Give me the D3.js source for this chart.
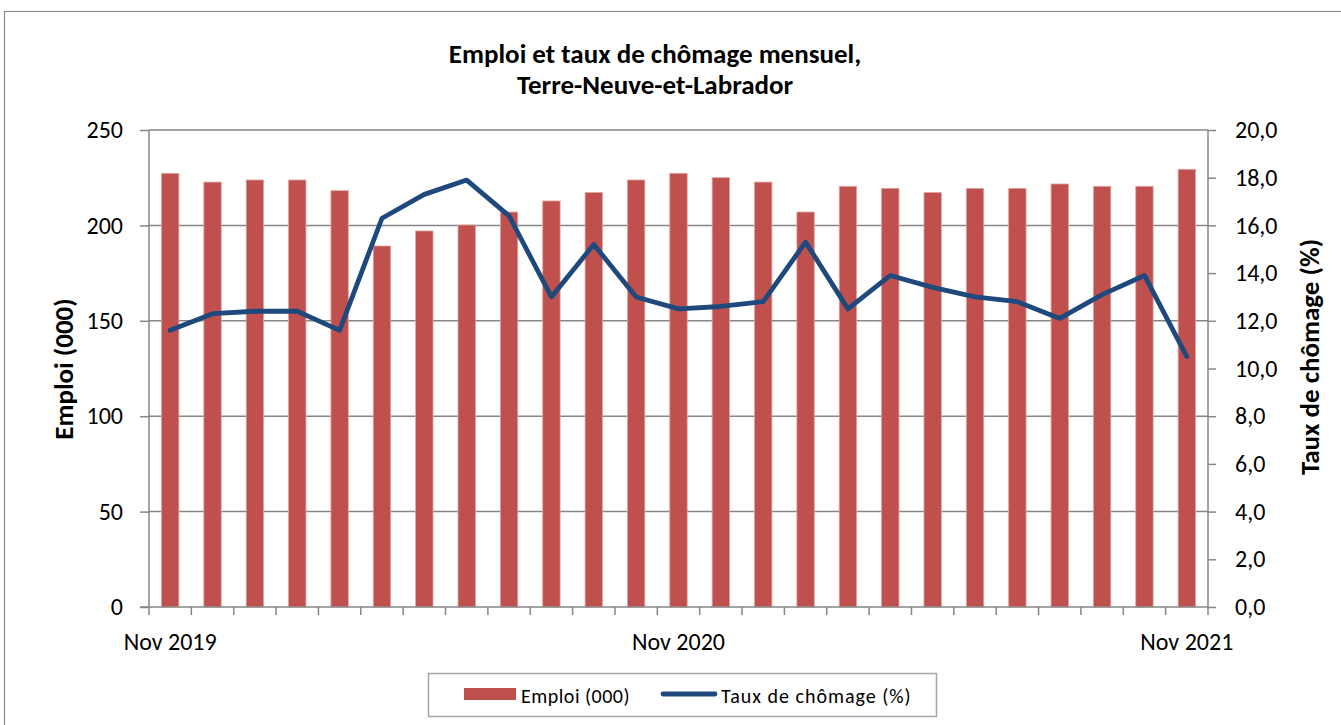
<!DOCTYPE html>
<html lang="fr">
<head>
<meta charset="UTF-8">
<title>Emploi et taux de chômage mensuel</title>
<script src="https://cdn.jsdelivr.net/npm/d3@7"></script>
<style>
  body { margin: 0; background: #fff; }
  svg text { font-family: Carlito, "Open Sans", "Noto Sans", sans-serif; fill: #000; }
</style>
</head>
<body>
<div id="chart"></div>
<script>
// mois nov 2019 -> nov 2021
const months = ["Nov 2019", "Déc 2019", "Jan 2020", "Fév 2020", "Mar 2020", "Avr 2020", "Mai 2020",
  "Juin 2020", "Juil 2020", "Août 2020", "Sep 2020", "Oct 2020", "Nov 2020", "Déc 2020",
  "Jan 2021", "Fév 2021", "Mar 2021", "Avr 2021", "Mai 2021", "Juin 2021", "Juil 2021",
  "Août 2021", "Sep 2021", "Oct 2021", "Nov 2021"];
const emploi = [227.3, 222.7, 223.8, 223.8, 218.2, 189.2, 197.1, 200.2, 207.0, 212.8, 217.2, 223.8,
  227.3, 225.0, 222.7, 207.0, 220.5, 219.4, 217.2, 219.4, 219.4, 221.7, 220.5, 220.5, 229.4];
const taux = [11.6, 12.3, 12.4, 12.4, 11.6, 16.3, 17.3, 17.9, 16.4, 13.0, 15.2, 13.0,
  12.5, 12.6, 12.8, 15.3, 12.5, 13.9, 13.4, 13.0, 12.8, 12.1, 13.1, 13.9, 10.5];
const leftTicks = [0, 50, 100, 150, 200, 250];
const rightTicks = [0, 2, 4, 6, 8, 10, 12, 14, 16, 18, 20];
const shownLabels = ["Nov 2019", "Nov 2020", "Nov 2021"];

const W = 1341, H = 725;
const m = {left: 149, right: 1208, top: 130, bottom: 607};

const svg = d3.select("#chart").append("svg").attr("width", W).attr("height", H);

// cadre extérieur
svg.append("rect").attr("x", 4.5).attr("y", 11.5).attr("width", W).attr("height", H)
  .attr("fill", "none").attr("stroke", "#8c8c8c").attr("stroke-width", 1.2);

const x = d3.scaleBand().domain(months).range([m.left, m.right]).paddingInner(0).paddingOuter(0);
const yL = d3.scaleLinear().domain([0, 250]).range([m.bottom, m.top]);
const yR = d3.scaleLinear().domain([0, 20]).range([m.bottom, m.top]);

// grille
svg.append("g").selectAll("line").data(leftTicks.filter(d => d > 0)).join("line")
  .attr("x1", m.left).attr("x2", m.right)
  .attr("y1", d => yL(d)).attr("y2", d => yL(d))
  .attr("stroke", "#868686").attr("stroke-width", 1.5);

// barres
const bw = x.bandwidth() * 0.41;
svg.append("g").selectAll("rect").data(emploi).join("rect")
  .attr("x", (d, i) => x(months[i]) + (x.bandwidth() - bw) / 2)
  .attr("y", d => yL(d))
  .attr("width", bw)
  .attr("height", d => yL(0) - yL(d))
  .attr("fill", "#C0504D")
  .attr("stroke", "#dca3a2").attr("stroke-width", 0.8);

// axes
const axL = svg.append("g").attr("transform", `translate(${m.left},0)`)
  .call(d3.axisLeft(yL).tickValues(leftTicks).tickSize(9).tickPadding(17).tickFormat(d3.format("d")));
const axR = svg.append("g").attr("transform", `translate(${m.right},0)`)
  .call(d3.axisRight(yR).tickValues(rightTicks).tickSize(8).tickPadding(19)
    .tickFormat(d => d3.format(".1f")(d).replace(".", ",")));
const xTickPos = months.map(d => x(d)).concat([m.right]);
const axB = svg.append("g");
axB.append("line").attr("x1", m.left - 9).attr("x2", m.right).attr("y1", m.bottom).attr("y2", m.bottom)
  .attr("stroke", "#868686").attr("stroke-width", 1.5);
axB.selectAll("line.t").data(xTickPos).join("line").attr("class", "t")
  .attr("x1", d => d).attr("x2", d => d).attr("y1", m.bottom).attr("y2", m.bottom + 8)
  .attr("stroke", "#868686").attr("stroke-width", 1.5);
axB.selectAll("text").data(shownLabels).join("text")
  .attr("x", d => x(d) + x.bandwidth() / 2).attr("y", 650)
  .attr("text-anchor", "middle").attr("font-size", 24).text(d => d);

[axL, axR].forEach(a => {
  a.select(".domain").attr("stroke", "#868686").attr("stroke-width", 1.5);
  a.selectAll(".tick line").attr("stroke", "#868686").attr("stroke-width", 1.5);
  a.selectAll(".tick text").attr("font-size", 24).attr("fill", "#000");
});
axL.select(".domain").attr("d", `M0,${m.top}V${m.bottom}`);
axR.select(".domain").attr("d", `M0,${m.top}V${m.bottom}`);

// ligne taux de chômage
const line = d3.line()
  .x((d, i) => x(months[i]) + x.bandwidth() / 2)
  .y(d => yR(d));
svg.append("path").datum(taux).attr("d", line)
  .attr("fill", "none").attr("stroke", "#1F497D").attr("stroke-width", 4.8)
  .attr("stroke-linejoin", "round").attr("stroke-linecap", "round");

// titres
svg.append("text").attr("x", 655).attr("y", 63).attr("text-anchor", "middle")
  .attr("font-size", 27).attr("font-weight", "bold").text("Emploi et taux de chômage mensuel,");
svg.append("text").attr("x", 655).attr("y", 94).attr("text-anchor", "middle")
  .attr("font-size", 27).attr("font-weight", "bold").text("Terre-Neuve-et-Labrador");

svg.append("text").attr("transform", `translate(73,369) rotate(-90)`)
  .attr("text-anchor", "middle").attr("font-size", 27).attr("font-weight", "bold").text("Emploi (000)");
svg.append("text").attr("transform", `translate(1319,357) rotate(-90)`)
  .attr("text-anchor", "middle").attr("font-size", 27).attr("font-weight", "bold").text("Taux de chômage (%)");

// légende
const lg = svg.append("g");
lg.append("rect").attr("x", 428.5).attr("y", 673.5).attr("width", 508).attr("height", 43)
  .attr("fill", "#fff").attr("stroke", "#a6a6a6").attr("stroke-width", 1.5);
lg.append("rect").attr("x", 464).attr("y", 688).attr("width", 52).attr("height", 12).attr("fill", "#C0504D");
lg.append("text").attr("x", 521).attr("y", 703).attr("font-size", 20).attr("letter-spacing", 0.5).text("Emploi (000)");
lg.append("line").attr("x1", 663).attr("x2", 715).attr("y1", 694).attr("y2", 694)
  .attr("stroke", "#1F497D").attr("stroke-width", 4.8).attr("stroke-linecap", "round");
lg.append("text").attr("x", 721).attr("y", 703).attr("font-size", 20).attr("letter-spacing", 1).text("Taux de chômage (%)");
</script>
</body>
</html>
